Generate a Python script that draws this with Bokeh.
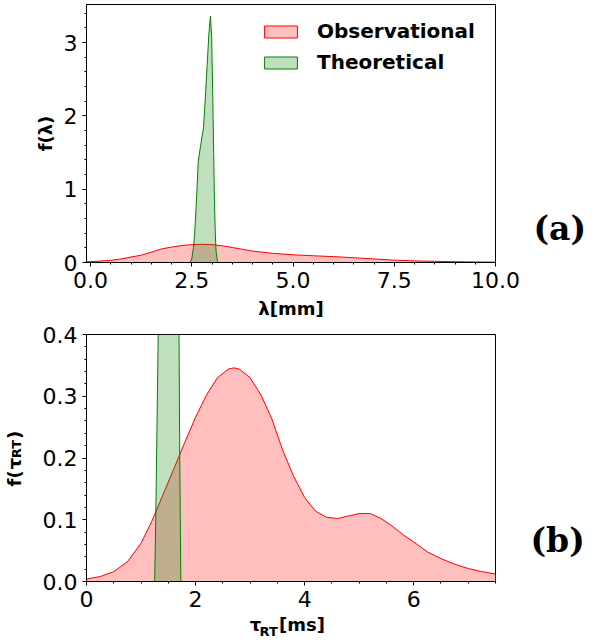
from bokeh.plotting import figure
from bokeh.models import Range1d, FixedTicker, PrintfTickFormatter, Legend, LegendItem, LinearAxis
from bokeh.layouts import column
from bokeh.embed import file_html
from bokeh.resources import INLINE

# ---- data: panel (a) wavelength distributions ----
lam_obs_x = [-0.1, 0.25, 0.5, 0.75, 1.0, 1.25, 1.5, 1.75, 2.0, 2.25, 2.5, 2.75, 3.0, 3.25, 3.5,
             3.75, 4.0, 4.5, 5.0, 5.5, 6.0, 6.5, 7.0, 7.5, 8.0, 8.5, 9.0, 9.5, 10.0]
lam_obs_y = [0.01, 0.02, 0.03, 0.048, 0.075, 0.10, 0.14, 0.185, 0.21, 0.232, 0.244, 0.248, 0.244,
             0.228, 0.205, 0.18, 0.155, 0.125, 0.105, 0.092, 0.08, 0.065, 0.048, 0.032, 0.022,
             0.016, 0.011, 0.008, 0.005]
lam_th_x = [2.46, 2.50, 2.54, 2.57, 2.62, 2.66, 2.72, 2.79, 2.84, 2.88, 2.92, 2.96, 2.99, 3.02,
            3.04, 3.06, 3.08, 3.10, 3.13, 3.15]
lam_th_y = [0.0, 0.05, 0.2, 0.38, 0.9, 1.38, 1.6, 1.84, 2.3, 2.7, 3.1, 3.36, 3.1, 2.2,
            1.5, 0.84, 0.4, 0.15, 0.03, 0.0]

# ---- data: panel (b) residence time distributions ----
tau_obs_x = [0, 0.25, 0.5, 0.75, 1.0, 1.2, 1.4, 1.6, 1.8, 2.0, 2.2, 2.4, 2.6, 2.7, 2.8, 3.0, 3.2,
             3.4, 3.6, 3.8, 4.0, 4.2, 4.4, 4.6, 4.8, 5.0, 5.2, 5.4, 5.6, 5.8, 6.0, 6.25, 6.5,
             6.75, 7.0, 7.25, 7.5]
tau_obs_y = [0.004, 0.008, 0.016, 0.032, 0.062, 0.098, 0.140, 0.182, 0.225, 0.266, 0.302, 0.330,
             0.344, 0.346, 0.344, 0.330, 0.302, 0.263, 0.212, 0.170, 0.136, 0.114, 0.104, 0.102,
             0.106, 0.110, 0.110, 0.102, 0.090, 0.076, 0.064, 0.048, 0.037, 0.028, 0.021, 0.016,
             0.012]
tau_th_x = [1.25, 1.27, 1.30, 1.33, 1.40, 1.50, 1.60, 1.66, 1.69, 1.71, 1.73]
tau_th_y = [0.0, 0.1, 0.3, 0.5, 1.5, 2.5, 2.0, 1.0, 0.5, 0.2, 0.0]

lam_xticks = [0.0, 2.5, 5.0, 7.5, 10.0]
lam_yticks = [0, 1, 2, 3]
tau_xticks = [0, 2, 4, 6]
tau_yticks = [0.0, 0.1, 0.2, 0.3, 0.4]
legend_labels = ["Observational", "Theoretical"]

RED = "#ff0000"
GREEN = "#008000"
TICK_FONT = "22px"
SANS = "DejaVu Sans"

# anchor positions (data coordinates) of the text pieces placed through extra axes
A_POS = 0.47      # "(a)" height in panel (a)
B_POS = 0.066     # "(b)" height in panel (b)
XL_TAU, XL_RT, XL_MS = 3.10, 3.34, 3.95          # tau, RT, [ms] along x of panel (b)
YL_F, YL_TAU, YL_RT, YL_CP = 0.167, 0.191, 0.2146, 0.2373   # f(, tau, RT, ) along y of panel (b)


def closed(xs, ys):
    return list(xs) + [xs[-1], xs[0]], list(ys) + [0, 0]


def frange(a, b, step):
    n = int(round((b - a) / step))
    return [round(a + i * step, 6) for i in range(n + 1)]


def style(p, xticks, xminor, yticks, yminor, xfmt, yfmt):
    p.outline_line_color = "black"
    p.outline_line_width = 1
    p.grid.visible = False
    p.background_fill_color = "white"
    p.border_fill_color = "white"
    ax, ay = p.below[0], p.left[0]
    ax.ticker = FixedTicker(ticks=xticks, minor_ticks=xminor)
    ay.ticker = FixedTicker(ticks=yticks, minor_ticks=yminor)
    ax.formatter = PrintfTickFormatter(format=xfmt)
    ay.formatter = PrintfTickFormatter(format=yfmt)
    for a in (ax, ay):
        a.axis_line_color = "black"
        a.major_tick_line_color = "black"
        a.minor_tick_line_color = "black"
        a.major_label_text_font = SANS
        a.major_label_text_font_size = TICK_FONT
        a.major_label_text_color = "black"
        a.major_tick_out = 4
        a.major_tick_in = 0
        a.minor_tick_out = 2
        a.minor_tick_in = 0
        a.major_label_standoff = 5
        a.axis_label_text_font = SANS
        a.axis_label_text_font_style = "bold"
        a.axis_label_text_font_size = "18px"
        a.axis_label_text_color = "black"
    return ax, ay


def text_axis(ticks, labels, font, size, standoff, orientation="horizontal", style="bold"):
    ax = LinearAxis(ticker=FixedTicker(ticks=ticks, minor_ticks=[]),
                    major_label_overrides={t: s for t, s in zip(ticks, labels)},
                    axis_line_color=None, major_tick_line_color=None, minor_tick_line_color=None,
                    major_tick_out=0, major_tick_in=0, minor_tick_out=0, minor_tick_in=0,
                    major_label_standoff=standoff, major_label_orientation=orientation,
                    major_label_text_font=font, major_label_text_font_style=style,
                    major_label_text_font_size=size, major_label_text_color="black")
    return ax


# ---------------- panel (a) ----------------
p1 = figure(width=603, height=322, output_backend="svg", toolbar_location=None,
            x_range=Range1d(-0.1, 10.0), y_range=Range1d(0, 3.52),
            min_border_left=84, min_border_right=108, min_border_top=4, min_border_bottom=60)
ax1, ay1 = style(p1, lam_xticks, frange(0, 10, 0.5), lam_yticks, frange(0, 3.4, 0.2), "%.1f", "%d")
ax1.axis_label = "λ[mm]"
ax1.axis_label_standoff = 7
ay1.axis_label = "f(λ)"
ay1.axis_label_standoff = 5

ox, oy = closed(lam_obs_x, lam_obs_y)
r_obs = p1.patch(ox, oy, fill_color=RED, fill_alpha=0.25, line_color=RED, line_width=1)
tx, ty = closed(lam_th_x, lam_th_y)
r_th = p1.patch(tx, ty, fill_color=GREEN, fill_alpha=0.25, line_color=GREEN, line_width=1)

leg = Legend(items=[LegendItem(label=legend_labels[0], renderers=[r_obs]),
                    LegendItem(label=legend_labels[1], renderers=[r_th])],
             location=(174, 188), margin=0, padding=0, spacing=7,
             glyph_width=41, glyph_height=15, label_standoff=16,
             label_text_font=SANS, label_text_font_style="bold", label_text_color="black",
             label_text_font_size="20px", border_line_alpha=0, background_fill_alpha=0)
p1.add_layout(leg, "center")

p1.add_layout(text_axis([A_POS], ["(a)"], "DejaVu Serif", "33px", 38), "right")

# ---------------- panel (b) ----------------
p2 = figure(width=603, height=322, output_backend="svg", toolbar_location=None,
            x_range=Range1d(0, 7.5), y_range=Range1d(0, 0.4),
            min_border_left=86, min_border_right=105, min_border_top=12, min_border_bottom=63)
ax2, ay2 = style(p2, tau_xticks, frange(0, 7.5, 0.5), tau_yticks, frange(0, 0.4, 0.02), "%d", "%.1f")

ox, oy = closed(tau_obs_x, tau_obs_y)
p2.patch(ox, oy, fill_color=RED, fill_alpha=0.25, line_color=RED, line_width=1)
tx, ty = closed(tau_th_x, tau_th_y)
p2.patch(tx, ty, fill_color=GREEN, fill_alpha=0.25, line_color=GREEN, line_width=1)

# x label: tau_RT[ms]
p2.add_layout(text_axis([XL_TAU, XL_MS], ["τ", "[ms]"], SANS, "18px", 4), "below")
p2.add_layout(text_axis([XL_RT], ["RT"], SANS, "13px", -14), "below")
# y label: f(tau_RT), reading upward
p2.add_layout(text_axis([YL_F, YL_TAU, YL_CP], ["f(", "τ", ")"], SANS, "18px", 14, "parallel"), "left")
p2.add_layout(text_axis([YL_RT], ["RT"], SANS, "13px", -23, "parallel"), "left")
# panel tag
p2.add_layout(text_axis([B_POS], ["(b)"], "DejaVu Serif", "33px", 35), "right")

layout = column(p1, p2, spacing=0)
open("out.html", "w").write(file_html(layout, INLINE))
